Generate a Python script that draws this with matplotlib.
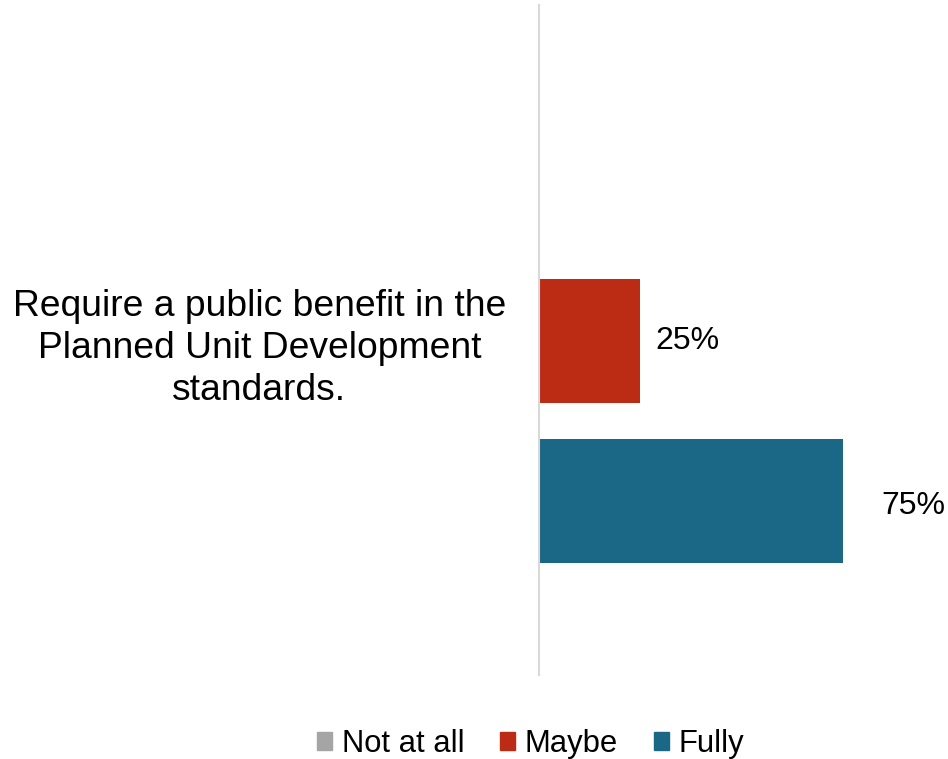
import matplotlib.pyplot as plt
from matplotlib.patches import Patch

plt.rcParams['font.family'] = ['Liberation Sans', 'DejaVu Sans']

category = "Require a public benefit in the\nPlanned Unit Development\nstandards."
series = ['Not at all', 'Maybe', 'Fully']
values = [0.0, 0.25, 0.75]
labels = ['', '25%', '75%']
colors = ['#A5A5A5', '#BC2C15', '#1A6886']
label_offsets = [(15, 0), (15, 0), (38, -5)]  # px from bar end, as placed in the original

fig = plt.figure(figsize=(9.48, 7.59), dpi=100)
ax = fig.add_axes([538.5 / 948, 1 - 675 / 759, 406 / 948, 670 / 759])

pos = list(range(len(series)))
ax.barh(pos, values, height=0.777, color=colors)
ax.set_xlim(0, 1)
ax.set_ylim(2 + 1.09, 0 - 1.103)

for p, v, lab, off in zip(pos, values, labels, label_offsets):
    if lab:
        ax.annotate(lab, (v, p), xytext=(off[0] * 0.72, off[1] * 0.72),
                    textcoords='offset points', va='center', ha='left',
                    fontsize=23, color='#000000', annotation_clip=False)

ax.set_xticks([])
ax.set_yticks([1])
ax.set_yticklabels([category], fontsize=26.8, ha='center', linespacing=1.26)
ax.tick_params(axis='y', length=0, pad=201)
for s in ['top', 'right', 'bottom']:
    ax.spines[s].set_visible(False)
ax.spines['left'].set_color('#D9D9D9')
ax.spines['left'].set_linewidth(1.5)

handles = [Patch(color=c, label=s) for c, s in zip(colors, series)]
fig.legend(handles=handles, loc='center', bbox_to_anchor=(530.5 / 948, 1 - 744 / 759),
           ncol=3, frameon=False, fontsize=22.3, handlelength=0.5, handleheight=0.5,
           handletextpad=0.3, columnspacing=1.15)

fig.savefig('out.png', dpi=100)
